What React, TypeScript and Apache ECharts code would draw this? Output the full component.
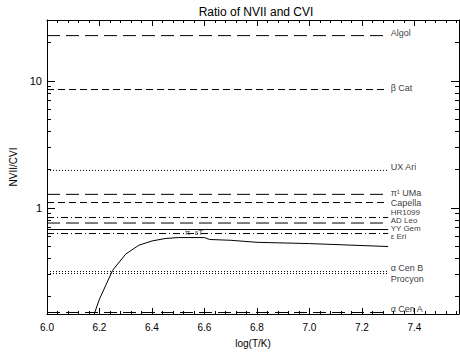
import React, { useEffect, useRef } from "react";
import * as echarts from "echarts";

const xMin = 6.0;
const xMax = 7.57;
const yMin = 0.145;
const yMax = 30;
const lineEnd = 7.3;

const xTickLabels = [6.0, 6.2, 6.4, 6.6, 6.8, 7.0, 7.2, 7.4];
const xMinorTicks = [
  6.04, 6.08, 6.12, 6.16, 6.24, 6.28, 6.32, 6.36, 6.44, 6.48, 6.52, 6.56,
  6.64, 6.68, 6.72, 6.76, 6.84, 6.88, 6.92, 6.96, 7.04, 7.08, 7.12, 7.16,
  7.24, 7.28, 7.32, 7.36, 7.44, 7.48, 7.52, 7.56,
];
const yMajorTicks = [1, 10];
const yMinorTicks = [0.2, 0.3, 0.4, 0.5, 0.6, 0.7, 0.8, 0.9, 2, 3, 4, 5, 6, 7, 8, 9, 20, 30];

const starNames = ["Algol", "β Cat", "UX Ari", "π¹ UMa", "Capella", "HR1099", "AD Leo", "YY Gem", "ε Eri", "α Cen B", "Procyon", "α Cen A"];
const starRatios = [22.6, 8.5, 1.96, 1.27, 1.095, 0.834, 0.755, 0.671, 0.624, 0.313, 0.302, 0.149];
const starLabelRatios = [23.9, 8.81, 2.07, 1.29, 1.085, 0.913, 0.79, 0.683, 0.591, 0.331, 0.276, 0.158];
const starLabelSizes = [9, 9, 9, 9, 9, 8, 8, 8, 8, 9, 9, 9];
const starStyles = ["longdash", "dash", "dot", "longdash", "dash", "dashdot", "longdash", "solid", "dashdot", "dot", "dot", "longdash"];

const curveLogT = [6.18, 6.2, 6.25, 6.3, 6.35, 6.4, 6.45, 6.5, 6.6, 6.62, 6.7, 6.8, 7.0, 7.3];
const curveRatio = [0.145, 0.19, 0.32, 0.43, 0.505, 0.545, 0.57, 0.58, 0.58, 0.56, 0.552, 0.532, 0.52, 0.493];

const dashMap: Record<string, any> = {
  solid: "solid",
  dash: [7, 4],
  longdash: [13, 6],
  dot: [1, 2],
  dashdot: [7, 3, 1, 3],
};

const FONT = "Liberation Sans";

export default function App() {
  const ref = useRef<HTMLDivElement>(null);
  useEffect(() => {
    if (!ref.current) return;
    const chart = echarts.init(ref.current, null, { renderer: "svg" });
    const starLines = starNames.map((n, i) => ({
      type: "line",
      name: n,
      data: [
        [xMin, starRatios[i]],
        [lineEnd, starRatios[i]],
      ],
      symbol: "none",
      silent: true,
      lineStyle: { color: "#000", width: 1, type: dashMap[starStyles[i]] },
      z: 3,
    }));
    const option: any = {
      animation: false,
      backgroundColor: "#fff",
      title: {
        text: "Ratio of NVII and CVI",
        left: 251,
        top: 1,
        textAlign: "center",
        textStyle: { fontFamily: FONT, fontSize: 12, fontWeight: "normal", color: "#000" },
      },
      grid: { left: 43, right: 1, top: 20, bottom: 39 },
      xAxis: [
        {
          type: "value",
          min: xMin,
          max: xMax,
          interval: 0.2,
          name: "log(T/K)",
          nameLocation: "middle",
          nameGap: 24,
          nameTextStyle: { fontFamily: FONT, fontSize: 10, color: "#000" },
          axisLine: { show: true, lineStyle: { color: "#000", width: 1 } },
          axisTick: { show: false },
          splitLine: { show: false },
          axisLabel: {
            margin: 8,
            fontFamily: FONT,
            fontSize: 10,
            color: "#000",
            showMaxLabel: false,
            formatter: (v: number) => (xTickLabels.some((t) => Math.abs(t - v) < 1e-6) ? v.toFixed(1) : ""),
          },
        },
        {
          type: "value",
          position: "top",
          min: xMin,
          max: xMax,
          axisLine: { show: true, onZero: false, lineStyle: { color: "#000", width: 1 } },
          axisTick: { show: false },
          axisLabel: { show: false },
          splitLine: { show: false },
        },
      ],
      yAxis: [
        {
          type: "log",
          logBase: 10,
          min: yMin,
          max: yMax,
          name: "NVII/CVI",
          nameLocation: "middle",
          nameGap: 29,
          nameTextStyle: { fontFamily: FONT, fontSize: 10, color: "#000" },
          axisLine: { show: true, lineStyle: { color: "#000", width: 1 } },
          axisTick: { show: false },
          splitLine: { show: false },
          minorTick: { show: false },
          axisLabel: {
            margin: 5,
            fontFamily: FONT,
            fontSize: 11,
            color: "#000",
            showMinLabel: false,
            showMaxLabel: false,
            formatter: (v: number) => (yMajorTicks.some((t) => Math.abs(t - v) / t < 1e-6) ? String(Math.round(v)) : ""),
          },
        },
        {
          type: "log",
          logBase: 10,
          position: "right",
          min: yMin,
          max: yMax,
          axisLine: { show: true, lineStyle: { color: "#000", width: 1 } },
          axisTick: { show: false },
          axisLabel: { show: false },
          splitLine: { show: false },
        },
      ],
      series: [
        ...starLines,
        {
          type: "line",
          name: "ratio",
          data: curveLogT.map((t, i) => [t, curveRatio[i]]),
          symbol: "none",
          silent: true,
          clip: true,
          lineStyle: { color: "#000", width: 1 },
          z: 4,
        },
        {
          type: "scatter",
          name: "labels",
          data: starNames.map((n, i) => ({
            value: [lineEnd, starLabelRatios[i], n],
            label: { fontSize: starLabelSizes[i], lineHeight: starLabelSizes[i] - 1 },
          })),
          symbolSize: 1,
          itemStyle: { color: "rgba(0,0,0,0)" },
          silent: true,
          label: {
            show: true,
            position: "right",
            distance: 2,
            fontFamily: FONT,
            fontSize: 9,
            color: "#000",
            formatter: (p: any) => p.value[2],
          },
          z: 5,
        },
        {
          type: "scatter",
          name: "curvelabel",
          data: [[6.56, 0.64, "π  εT"]],
          symbolSize: 1,
          itemStyle: { color: "rgba(0,0,0,0)" },
          silent: true,
          label: {
            show: true,
            position: "inside",
            fontFamily: FONT,
            fontSize: 8,
            lineHeight: 6,
            color: "#000",
            formatter: (p: any) => p.data[2],
          },
          z: 5,
        },
        {
          type: "custom",
          name: "yticks",
          silent: true,
          data: [
            ...yMajorTicks.map((v) => [xMin, v, 1]),
            ...yMinorTicks.map((v) => [xMin, v, 0]),
          ],
          renderItem: (params: any, api: any) => {
            const v = api.value(1);
            const major = api.value(2);
            const cs = params.coordSys;
            const p = api.coord([xMin, v]);
            const len = major ? 8 : 4;
            const y = Math.round(p[1]) + 0.5;
            return {
              type: "group",
              children: [
                { type: "line", shape: { x1: cs.x, y1: y, x2: cs.x + len, y2: y }, style: { stroke: "#000", lineWidth: 1 } },
                { type: "line", shape: { x1: cs.x + cs.width, y1: y, x2: cs.x + cs.width - len, y2: y }, style: { stroke: "#000", lineWidth: 1 } },
              ],
            };
          },
          z: 6,
        },
        {
          type: "custom",
          name: "xticks",
          silent: true,
          data: [
            ...xTickLabels.map((v) => [v, 1, 1]),
            ...xMinorTicks.map((v) => [v, 1, 0]),
          ],
          renderItem: (params: any, api: any) => {
            const v = api.value(0);
            const major = api.value(2);
            const cs = params.coordSys;
            const p = api.coord([v, 1]);
            const len = major ? 6 : 3;
            const x = Math.round(p[0]) + 0.5;
            return {
              type: "group",
              children: [
                { type: "line", shape: { x1: x, y1: cs.y + cs.height, x2: x, y2: cs.y + cs.height - len }, style: { stroke: "#000", lineWidth: 1 } },
                { type: "line", shape: { x1: x, y1: cs.y, x2: x, y2: cs.y + len }, style: { stroke: "#000", lineWidth: 1 } },
              ],
            };
          },
          z: 6,
        },
      ],
    };
    chart.setOption(option);
    return () => chart.dispose();
  }, []);
  return <div ref={ref} style={{ position: "fixed", left: 0, top: 0, width: 460, height: 353 }} />;
}
